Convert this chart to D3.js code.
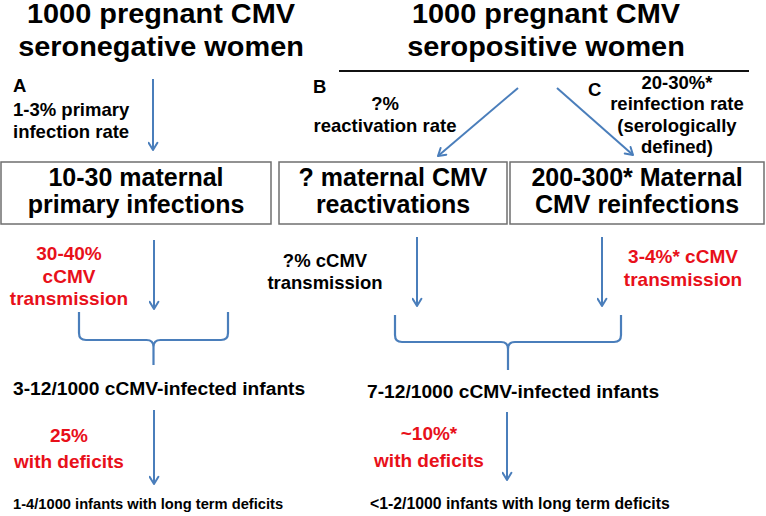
<!DOCTYPE html>
<html>
<head>
<meta charset="utf-8">
<script src="https://cdn.jsdelivr.net/npm/d3@7"></script>
<style>
  html, body { margin: 0; padding: 0; background: #fff; }
  svg { display: block; font-family: "Liberation Sans", Arial, sans-serif; font-weight: bold; }
</style>
</head>
<body>
<div id="chart"></div>
<script>
// ---------- data (text content) ----------
const titles = [
  ["1000 pregnant CMV", "seronegative women"],
  ["1000 pregnant CMV", "seropositive women"]
];
const panelLetters = ["A", "B", "C"];
const rateLabels = [
  ["1-3% primary", "infection rate"],
  ["?%", "reactivation rate"],
  ["20-30%*", "reinfection rate", "(serologically", "defined)"]
];
const boxLabels = [
  ["10-30 maternal", "primary infections"],
  ["? maternal CMV", "reactivations"],
  ["200-300* Maternal", "CMV reinfections"]
];
const transmissionLabels = [
  ["30-40%", "cCMV", "transmission"],
  ["?% cCMV", "transmission"],
  ["3-4%* cCMV", "transmission"]
];
const transmissionKnown = [true, false, true];
const infantTotals = ["3-12/1000 cCMV-infected infants", "7-12/1000 cCMV-infected infants"];
const deficitRates = [["25%", "with deficits"], ["~10%*", "with deficits"]];
const longTermOutcomes = ["1-4/1000 infants with long term deficits", "<1-2/1000 infants with long term deficits"];

// ---------- layout ----------
const W = 766, H = 516;
const BLUE = "#4a7ebb", RED = "#e8101a", BLACK = "#000";

const svg = d3.select("#chart").append("svg").attr("width", W).attr("height", H);

svg.append("defs").append("marker")
  .attr("id", "head").attr("viewBox", "0 0 10 10")
  .attr("refX", 8).attr("refY", 5)
  .attr("markerWidth", 5.5).attr("markerHeight", 5.5)
  .attr("markerUnits", "strokeWidth")
  .attr("orient", "auto")
  .append("path").attr("d", "M1.5,1 L8,5 L1.5,9")
  .attr("fill", "none").attr("stroke", BLUE).attr("stroke-width", 1.8)
  .attr("stroke-linecap", "round").attr("stroke-linejoin", "round");

function multiline(lines, x, y0, dy, size, color, anchor) {
  const t = svg.append("text").attr("font-size", size).attr("fill", color)
    .attr("text-anchor", anchor || "middle");
  t.selectAll("tspan").data(lines).join("tspan")
    .attr("x", x).attr("y", (d, i) => y0 + i * dy).text(d => d);
  return t;
}

// titles (slightly wide-set, as in the reference)
const titleX = [161, 546];
titles.forEach((lines, i) => {
  const g = svg.append("g").attr("transform", `translate(${titleX[i]},0) scale(1.07,1)`);
  const t = g.append("text").attr("font-size", 27).attr("fill", BLACK).attr("text-anchor", "middle");
  t.selectAll("tspan").data(lines).join("tspan")
    .attr("x", 0).attr("y", (d, j) => 23 + j * 33).text(d => d);
});
// rule under right title
svg.append("line").attr("x1", 339).attr("x2", 749).attr("y1", 71).attr("y2", 71)
  .attr("stroke", "#111").attr("stroke-width", 2);

// panel letters
const letterPos = [[13, 92], [313, 93], [588, 96]];
panelLetters.forEach((l, i) => multiline([l], letterPos[i][0], letterPos[i][1], 0, 18.5, BLACK, "start"));

// rate labels
multiline(rateLabels[0], 13, 116, 21.5, 18.5, BLACK, "start");
multiline(rateLabels[1], 385, 110, 22, 18.5, BLACK);
multiline(rateLabels[2], 677, 89, 21.3, 18.5, BLACK);

// arrows
const arrows = [
  [[153, 79], [153, 150]],
  [[518, 88], [438, 156]],
  [[557, 88], [633, 155]],
  [[154, 240], [154, 309]],
  [[417, 237], [417, 306]],
  [[602, 237], [602, 306]],
  [[154, 410], [154, 484]],
  [[507, 412], [507, 480]]
];
svg.selectAll("line.arrow").data(arrows).join("line").attr("class", "arrow")
  .attr("x1", d => d[0][0]).attr("y1", d => d[0][1])
  .attr("x2", d => d[1][0]).attr("y2", d => d[1][1])
  .attr("stroke", BLUE).attr("stroke-width", 2)
  .attr("marker-end", "url(#head)");

// boxes
const boxes = [[1, 162, 270, 62], [279, 162, 228, 62], [510, 162, 254, 62]];
boxes.forEach((b, i) => {
  svg.append("rect").attr("x", b[0]).attr("y", b[1]).attr("width", b[2]).attr("height", b[3])
    .attr("fill", "#fff").attr("stroke", "#6f6f6f").attr("stroke-width", 1.5);
  multiline(boxLabels[i], b[0] + b[2] / 2, 186, 27, 25, BLACK);
});

// transmission labels
multiline(transmissionLabels[0], 69, 260, 22.5, 19, transmissionKnown[0] ? RED : BLACK);
multiline(transmissionLabels[1], 325, 267, 21.5, 18.5, transmissionKnown[1] ? RED : BLACK);
multiline(transmissionLabels[2], 683, 263, 23, 19, transmissionKnown[2] ? RED : BLACK);

// braces
function brace(x1, x2, yTop, yBar, yTip) {
  const xm = (x1 + x2) / 2, r = 7;
  const p = d3.path();
  p.moveTo(x1, yTop); p.lineTo(x1, yBar - r);
  p.quadraticCurveTo(x1, yBar, x1 + r, yBar);
  p.lineTo(xm - r, yBar);
  p.quadraticCurveTo(xm, yBar, xm, yBar + r);
  p.lineTo(xm, yTip);
  p.moveTo(x2, yTop); p.lineTo(x2, yBar - r);
  p.quadraticCurveTo(x2, yBar, x2 - r, yBar);
  p.lineTo(xm + r, yBar);
  p.quadraticCurveTo(xm, yBar, xm, yBar + r);
  svg.append("path").attr("d", p.toString()).attr("fill", "none")
    .attr("stroke", BLUE).attr("stroke-width", 2.2).attr("stroke-linejoin", "round");
}
brace(79, 228, 312, 340, 365);
brace(395, 621, 315, 342, 370);

// infant totals
multiline([infantTotals[0]], 13, 395, 0, 19.2, BLACK, "start");
multiline([infantTotals[1]], 367, 398, 0, 19.2, BLACK, "start");

// deficit rates
multiline(deficitRates[0], 69, 442, 26, 19, RED);
multiline(deficitRates[1], 429, 440, 27, 19, RED);

// long-term outcomes
multiline([longTermOutcomes[0]], 13, 509, 0, 14.7, BLACK, "start");
multiline([longTermOutcomes[1]], 370, 509, 0, 15.8, BLACK, "start");
</script>
</body>
</html>
